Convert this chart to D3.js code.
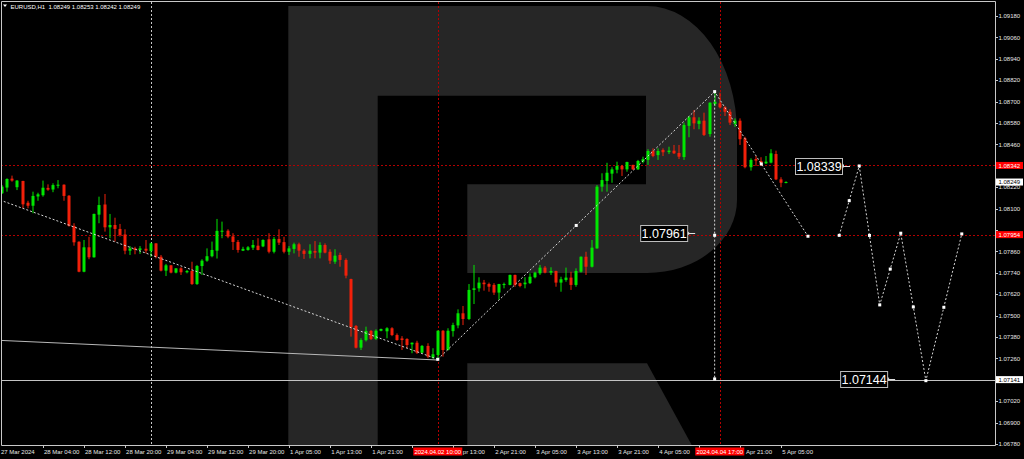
<!DOCTYPE html>
<html><head><meta charset="utf-8">
<script src="https://cdn.jsdelivr.net/npm/d3@7"></script>
<style>html,body{margin:0;padding:0;background:#000;overflow:hidden}svg{display:block}</style>
</head><body><svg id="c" width="1024" height="459"></svg>
<script>
// ---------- DATA ----------
const symbol = "EURUSD,H1";
const lastOHLC = ["1.08249", "1.08253", "1.08242", "1.08249"];

const opens = [1.08186,1.08218,1.08268,1.08220,1.08255,1.08133,1.08116,1.08168,1.08175,1.08216,
1.08207,1.08228,1.08234,1.08172,1.08003,1.07914,1.07746,1.07883,1.07827,1.08066,
1.08123,1.07995,1.08008,1.07986,1.07955,1.07864,1.07877,1.07868,1.07875,1.07862,
1.07905,1.07830,1.07752,1.07782,1.07741,1.07765,1.07743,1.07750,1.07677,1.07778,
1.07808,1.07833,1.07864,1.07970,1.07976,1.07944,1.07913,1.07864,1.07868,1.07881,
1.07892,1.07888,1.07928,1.07858,1.07930,1.07912,1.07858,1.07874,1.07900,1.07864,
1.07846,1.07862,1.07853,1.07896,1.07858,1.07802,1.07840,1.07812,1.07705,1.07442,
1.07320,1.07362,1.07414,1.07369,1.07415,1.07412,1.07429,1.07391,1.07372,1.07369,
1.07339,1.07348,1.07292,1.07330,1.07264,1.07279,1.07415,1.07307,1.07413,1.07445,
1.07513,1.07481,1.07644,1.07653,1.07685,1.07677,1.07672,1.07629,1.07672,1.07672,
1.07728,1.07682,1.07676,1.07682,1.07715,1.07737,1.07769,1.07741,1.07750,1.07685,
1.07700,1.07713,1.07672,1.07746,1.07830,1.07774,1.07877,1.08223,1.08255,1.08296,
1.08318,1.08339,1.08320,1.08345,1.08320,1.08363,1.08373,1.08423,1.08400,1.08429,
1.08417,1.08425,1.08412,1.08389,1.08564,1.08612,1.08575,1.08593,1.08518,1.08686,
1.08690,1.08668,1.08643,1.08575,1.08593,1.08494,1.08332,1.08378,1.08367,1.08354,
1.08358,1.08406,1.08264,1.08249];
const highs = [1.08232,1.08270,1.08285,1.08260,1.08256,1.08144,1.08195,1.08189,1.08257,1.08236,
1.08242,1.08260,1.08236,1.08176,1.08018,1.07917,1.07924,1.07942,1.08072,1.08167,
1.08182,1.08070,1.08049,1.08014,1.07984,1.07890,1.07886,1.07890,1.07924,1.07909,
1.07906,1.07840,1.07790,1.07784,1.07766,1.07771,1.07756,1.07802,1.07784,1.07816,
1.07877,1.07915,1.08042,1.08027,1.07984,1.07962,1.07924,1.07886,1.07890,1.07924,
1.07934,1.07928,1.07962,1.07941,1.07984,1.07942,1.07890,1.07909,1.07909,1.07872,
1.07900,1.07918,1.07911,1.07905,1.07872,1.07872,1.07853,1.07821,1.07707,1.07447,
1.07373,1.07438,1.07419,1.07423,1.07427,1.07435,1.07435,1.07400,1.07385,1.07373,
1.07349,1.07359,1.07335,1.07345,1.07317,1.07418,1.07419,1.07429,1.07460,1.07535,
1.07554,1.07677,1.07784,1.07715,1.07700,1.07685,1.07682,1.07678,1.07685,1.07730,
1.07730,1.07685,1.07715,1.07737,1.07746,1.07784,1.07778,1.07771,1.07752,1.07718,
1.07769,1.07746,1.07765,1.07832,1.07858,1.07924,1.08232,1.08298,1.08357,1.08332,
1.08363,1.08345,1.08363,1.08346,1.08373,1.08391,1.08433,1.08438,1.08438,1.08438,
1.08447,1.08457,1.08457,1.08582,1.08619,1.08653,1.08612,1.08638,1.08696,1.08756,
1.08750,1.08675,1.08657,1.08606,1.08606,1.08503,1.08382,1.08395,1.08388,1.08395,
1.08433,1.08425,1.08276,1.08253];
const lows = [1.08182,1.08195,1.08251,1.08204,1.08102,1.08102,1.08074,1.08144,1.08167,1.08200,
1.08192,1.08214,1.08144,1.07999,1.07892,1.07743,1.07743,1.07816,1.07825,1.08018,
1.07971,1.07934,1.07915,1.07943,1.07844,1.07840,1.07844,1.07846,1.07849,1.07830,
1.07821,1.07748,1.07722,1.07737,1.07737,1.07728,1.07737,1.07672,1.07672,1.07728,
1.07802,1.07827,1.07820,1.07934,1.07934,1.07868,1.07853,1.07862,1.07864,1.07868,
1.07866,1.07884,1.07849,1.07849,1.07896,1.07849,1.07840,1.07849,1.07830,1.07818,
1.07821,1.07821,1.07821,1.07849,1.07790,1.07790,1.07774,1.07709,1.07382,1.07316,
1.07307,1.07355,1.07363,1.07363,1.07412,1.07373,1.07385,1.07359,1.07307,1.07317,
1.07289,1.07285,1.07289,1.07261,1.07258,1.07255,1.07270,1.07305,1.07382,1.07429,
1.07447,1.07475,1.07565,1.07634,1.07640,1.07634,1.07616,1.07588,1.07653,1.07670,
1.07662,1.07659,1.07653,1.07677,1.07709,1.07728,1.07737,1.07728,1.07662,1.07634,
1.07690,1.07644,1.07662,1.07741,1.07728,1.07770,1.07875,1.08195,1.08195,1.08245,
1.08298,1.08283,1.08307,1.08317,1.08317,1.08354,1.08345,1.08388,1.08373,1.08395,
1.08406,1.08406,1.08378,1.08373,1.08500,1.08545,1.08545,1.08507,1.08503,1.08675,
1.08662,1.08619,1.08569,1.08559,1.08457,1.08326,1.08313,1.08339,1.08339,1.08350,
1.08354,1.08260,1.08220,1.08242];
const closes = [1.08223,1.08266,1.08257,1.08257,1.08124,1.08116,1.08171,1.08180,1.08217,1.08206,
1.08232,1.08234,1.08171,1.08003,1.07911,1.07746,1.07883,1.07827,1.08070,1.08120,
1.07995,1.08008,1.07986,1.07952,1.07864,1.07877,1.07868,1.07877,1.07864,1.07905,
1.07830,1.07752,1.07782,1.07741,1.07765,1.07743,1.07750,1.07677,1.07778,1.07808,
1.07833,1.07868,1.07975,1.07976,1.07943,1.07913,1.07868,1.07874,1.07883,1.07896,
1.07868,1.07924,1.07858,1.07930,1.07909,1.07858,1.07877,1.07900,1.07864,1.07846,
1.07864,1.07853,1.07896,1.07853,1.07808,1.07836,1.07812,1.07724,1.07435,1.07320,
1.07363,1.07414,1.07369,1.07415,1.07425,1.07429,1.07391,1.07363,1.07363,1.07335,
1.07348,1.07292,1.07330,1.07270,1.07283,1.07415,1.07307,1.07415,1.07447,1.07513,
1.07481,1.07644,1.07653,1.07685,1.07676,1.07662,1.07629,1.07677,1.07677,1.07728,
1.07672,1.07666,1.07685,1.07718,1.07741,1.07769,1.07741,1.07750,1.07685,1.07704,
1.07713,1.07672,1.07750,1.07830,1.07774,1.07881,1.08223,1.08260,1.08301,1.08320,
1.08339,1.08320,1.08361,1.08320,1.08367,1.08377,1.08423,1.08395,1.08423,1.08416,
1.08425,1.08410,1.08391,1.08569,1.08612,1.08578,1.08593,1.08513,1.08694,1.08699,
1.08668,1.08643,1.08582,1.08593,1.08489,1.08332,1.08373,1.08369,1.08354,1.08363,
1.08410,1.08264,1.08245,1.08249];

const timeTickIdx = [0,8,16,24,32,40,48,56,64,72,80,88,96,104,112,120,128,136,144,152];
const timeTickLabels = ["27 Mar 2024","28 Mar 04:00","28 Mar 12:00","28 Mar 20:00","29 Mar 04:00",
  "29 Mar 12:00","29 Mar 20:00","1 Apr 05:00","1 Apr 13:00","1 Apr 21:00","2 Apr 05:00",
  "2 Apr 13:00","2 Apr 21:00","3 Apr 05:00","3 Apr 13:00","3 Apr 21:00","4 Apr 05:00",
  "4 Apr 13:00","4 Apr 21:00","5 Apr 05:00"];
const priceTicks = [1.09180,1.09060,1.08940,1.08820,1.08700,1.08580,1.08460,1.08340,1.08220,
  1.08100,1.07980,1.07860,1.07740,1.07620,1.07500,1.07380,1.07260,1.07140,1.07020,1.06900,1.06780];

const redLevelPrices = [1.08342, 1.07954];
const hLinePrice = 1.07141;
const bidPrice = 1.08249;
const redVLineIdx = [85, 140];
const redVLineLabels = ["2024.04.02 10:00", "2024.04.04 17:00"];
const separatorIdx = 29;

const solidTrend = [[-0.39, 1.07361], [85, 1.07251]];
const dottedTrend = [[-0.39, 1.08148], [85, 1.07255]];
const zigzagMain = [[85, 1.07255], [139, 1.08756], [157.2, 1.07945]];
const zigzagForecast = [[163.3, 1.07950], [167.2, 1.08339], [171.2, 1.07560], [175.3, 1.07962], [180.2, 1.07135], [187.2, 1.07958]];
const verticalDotted = [[139, 1.08756], [139, 1.07145]];

const labelTexts = ["1.08339", "1.07961", "1.07144"];
const labelIdx = [165.4, 135.2, 174.2];
const labelPrices = [1.08339, 1.07961, 1.07144];

// ---------- LAYOUT ----------
const W = 1024, H = 459;
const L = 1, T = 2, R = 995, B = 445;
const FONT = "'Liberation Sans', Arial, sans-serif";
const GREEN = "#00e600", RED = "#f2200a";

const svg = d3.select("#c");
svg.append("rect").attr("width", W).attr("height", H).attr("fill", "#000");

const x = d3.scaleLinear().domain([0, 153]).range([2, 2 + 153 * 5.127]);
const y = d3.scaleLinear().domain([1.06780, 1.09180]).range([444, 16]);

const defs = svg.append("defs");
defs.append("clipPath").attr("id", "plot").append("rect")
  .attr("x", L).attr("y", T).attr("width", R - L).attr("height", B - T);

const plot = svg.append("g").attr("clip-path", "url(#plot)");

// watermark logo
const wm = plot.append("g").attr("fill", "#262626");
wm.append("path").attr("d",
  "M288.3,6 H647 A90,127 0 0 1 737,133 V200 A90,73 0 0 1 647,273 H467.3 V184.3 H646 V95.7 H377.7 V445 H288.3 Z");
wm.append("path").attr("d", "M467.3,363.3 H647 L691.7,445 H467.3 Z");

// separator vertical dotted
plot.append("line").attr("x1", Math.round(x(separatorIdx)) + 0.5).attr("x2", Math.round(x(separatorIdx)) + 0.5)
  .attr("y1", T).attr("y2", B).attr("stroke", "#c8c8c8").attr("stroke-width", 1)
  .attr("stroke-dasharray", "2,2");

// red horizontal dashed levels
plot.selectAll("line.rl").data(redLevelPrices).enter().append("line")
  .attr("x1", L).attr("x2", R).attr("y1", d => Math.round(y(d)) + 0.5).attr("y2", d => Math.round(y(d)) + 0.5)
  .attr("stroke", "#b40000").attr("stroke-dasharray", "2,2");

// red vertical dashed
plot.selectAll("line.rv").data(redVLineIdx).enter().append("line")
  .attr("x1", d => Math.round(x(d)) + 0.5).attr("x2", d => Math.round(x(d)) + 0.5)
  .attr("y1", T).attr("y2", B).attr("stroke", "#b40000").attr("stroke-dasharray", "2,2");

// horizontal line
plot.append("line").attr("x1", L).attr("x2", R)
  .attr("y1", Math.round(y(hLinePrice)) + 0.5).attr("y2", Math.round(y(hLinePrice)) + 0.5)
  .attr("stroke", "#c4c4c4").attr("stroke-width", 1);

// solid trendline
const lineGen = d3.line().x(d => x(d[0])).y(d => y(d[1]));
plot.append("path").datum(solidTrend).attr("d", lineGen)
  .attr("fill", "none").attr("stroke", "#b8b8b8").attr("stroke-width", 1);

// candles
const idx = d3.range(opens.length);
const cg = plot.append("g");
cg.selectAll("rect.w").data(idx).enter().append("rect")
  .attr("x", i => Math.round(x(i)) - 0.5)
  .attr("y", i => y(highs[i]))
  .attr("width", 1)
  .attr("height", i => Math.max(1, y(lows[i]) - y(highs[i])))
  .attr("fill", i => closes[i] >= opens[i] ? GREEN : RED);
cg.selectAll("rect.b").data(idx).enter().append("rect")
  .attr("x", i => Math.round(x(i)) - 1.5)
  .attr("y", i => y(Math.max(opens[i], closes[i])))
  .attr("width", 3)
  .attr("height", i => Math.max(1, Math.abs(y(opens[i]) - y(closes[i]))))
  .attr("fill", i => closes[i] >= opens[i] ? GREEN : RED);

// dotted lines
const dotted = plot.append("g").attr("fill", "none").attr("stroke", "#d6d6d6")
  .attr("stroke-width", 1).attr("stroke-dasharray", "2,2");
[dottedTrend, zigzagMain, zigzagForecast, verticalDotted].forEach(pts => {
  dotted.append("path").datum(pts).attr("d", lineGen);
});

// markers: vertices + segment midpoints
function markerPoints(pts, withMid, skipFirst) {
  const out = [];
  pts.forEach((p, i) => {
    if (!(skipFirst && i === 0)) out.push([x(p[0]), y(p[1])]);
    if (withMid && i < pts.length - 1) {
      out.push([(x(p[0]) + x(pts[i + 1][0])) / 2, (y(p[1]) + y(pts[i + 1][1])) / 2]);
    }
  });
  return out;
}
const marks = [].concat(
  markerPoints(zigzagMain, true, false),
  markerPoints(zigzagForecast, true, false),
  markerPoints(verticalDotted, true, true)
);
plot.selectAll("rect.m").data(marks).enter().append("rect")
  .attr("x", d => d[0] - 1.5).attr("y", d => d[1] - 1.5)
  .attr("width", 3).attr("height", 3).attr("fill", "#fff");

// price labels with boxes
labelTexts.forEach((t, i) => {
  const ax = x(labelIdx[i]), ay = y(labelPrices[i]);
  const bw = 47, bh = 16, gap = 8;
  const g = plot.append("g");
  g.append("line").attr("x1", ax - gap).attr("x2", ax).attr("y1", Math.round(ay) + 0.5).attr("y2", Math.round(ay) + 0.5)
    .attr("stroke", "#e0e0e0");
  g.append("line").attr("x1", ax - gap + 1.5).attr("x2", ax - gap + 1.5).attr("y1", ay - 1.5).attr("y2", ay + 1.5)
    .attr("stroke", "#e0e0e0");
  g.append("rect").attr("x", ax - gap - bw + 0.5).attr("y", Math.round(ay - bh / 2) + 0.5)
    .attr("width", bw).attr("height", bh).attr("fill", "#000").attr("stroke", "#bdbdbd");
  g.append("text").attr("x", ax - gap - bw / 2 + 0.5).attr("y", ay + 4.6)
    .attr("text-anchor", "middle").attr("font-family", FONT).attr("font-size", 12.5)
    .attr("fill", "#fff").text(t);
});

// ---------- FRAME & AXES ----------
const frame = svg.append("g").attr("stroke", "#c8c8c8").attr("stroke-width", 1).attr("fill", "none");
frame.append("path").attr("d", `M${L + 0.5},${B + 0.5} V${T - 0.5} H${R + 0.5} V${B + 0.5} H${L + 0.5}`);

const axT = svg.append("g").attr("font-family", FONT).attr("font-size", 6).attr("fill", "#e6e6e6");
// right axis (labels hidden behind highlighted tags are not drawn)
const tagPrices = redLevelPrices.concat([bidPrice, hLinePrice]);
priceTicks.forEach(p => {
  const yy = Math.round(y(p)) + 0.5;
  svg.append("line").attr("x1", R).attr("x2", R + 3).attr("y1", yy).attr("y2", yy).attr("stroke", "#c8c8c8");
  const covered = tagPrices.some(tp => Math.abs(y(tp) - y(p)) < 5);
  if (!covered) axT.append("text").attr("x", R + 3.5).attr("y", y(p) + 2.2).text(p.toFixed(5));
});
// highlighted right labels
function rightTag(p, bg, fg) {
  const yy = y(p);
  svg.append("rect").attr("x", R + 1).attr("y", yy - 3.5).attr("width", 27).attr("height", 7).attr("fill", bg);
  svg.append("text").attr("x", R + 3.5).attr("y", yy + 2.2).attr("font-family", FONT).attr("font-size", 6)
    .attr("fill", fg).text(p.toFixed(5));
}
redLevelPrices.forEach(p => rightTag(p, "#ff0000", "#fff"));
rightTag(bidPrice, "#fff", "#000");
rightTag(hLinePrice, "#fff", "#000");

// bottom axis
const redBoxes = redVLineIdx.map(k => [x(k) - 24.5, x(k) + 24.5]);
timeTickIdx.forEach((k, i) => {
  const xx = Math.round(x(k)) + 0.5;
  if (k > 0) svg.append("line").attr("x1", xx).attr("x2", xx).attr("y1", B).attr("y2", B + 3).attr("stroke", "#c8c8c8");
  const tx = k > 0 ? x(k) + 1 : 1;
  const t = axT.append("text").attr("x", tx).attr("y", 454).text(timeTickLabels[i]);
  // part of a label covered by a red time tag is not shown
  const node = t.node();
  const n = timeTickLabels[i].length;
  redBoxes.forEach(bx => {
    const end = tx + node.getComputedTextLength();
    if (end > bx[0] && tx < bx[1]) {
      let first = -1;
      for (let c = 0; c < n; c++) {
        if (node.getStartPositionOfChar(c).x >= bx[1] + 0.5) { first = c; break; }
      }
      if (first < 0) t.remove();
      else {
        const sx = node.getStartPositionOfChar(first).x;
        t.attr("x", sx).text(timeTickLabels[i].slice(first));
      }
    }
  });
});
redVLineIdx.forEach((k, i) => {
  const xx = x(k);
  svg.append("rect").attr("x", xx - 24.5).attr("y", 447.5).attr("width", 49).attr("height", 8).attr("fill", "#ff0000");
  svg.append("text").attr("x", xx).attr("y", 454).attr("text-anchor", "middle").attr("font-family", FONT)
    .attr("font-size", 6).attr("fill", "#fff").text(redVLineLabels[i]);
});

// header
svg.append("path").attr("d", "M3,4.5 H7 L5,7 Z").attr("fill", "#fff");
svg.append("text").attr("x", 10.5).attr("y", 8.5).attr("font-family", FONT).attr("font-size", 6)
  .attr("fill", "#fff").attr("xml:space", "preserve")
  .text(symbol + "  " + lastOHLC.join(" "));
</script>
</body></html>
